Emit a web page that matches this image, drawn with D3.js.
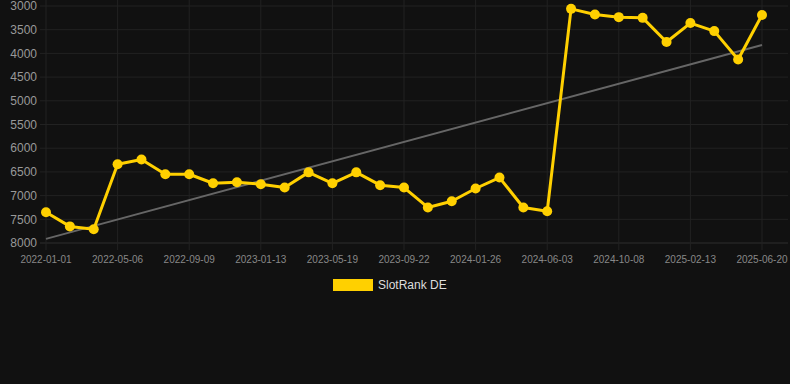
<!DOCTYPE html>
<html><head><meta charset="utf-8">
<script src="https://cdn.jsdelivr.net/npm/d3@7"></script>
<style>
html,body{margin:0;padding:0;background:#111111;}
svg{display:block;font-family:Arial,"Liberation Sans",sans-serif;}
</style></head>
<body><svg id="c" width="790" height="384"></svg>
<script>
const categories = ["2022-01-01","2022-02-12","2022-03-25","2022-05-06","2022-06-17","2022-07-29","2022-09-09","2022-10-21","2022-12-02","2023-01-13","2023-02-24","2023-04-07","2023-05-19","2023-06-30","2023-08-11","2023-09-22","2023-11-03","2023-12-15","2024-01-26","2024-03-08","2024-04-20","2024-06-03","2024-07-15","2024-08-26","2024-10-08","2024-11-19","2024-12-31","2025-02-13","2025-03-27","2025-05-08","2025-06-20"];
const rankDE = [7350,7650,7710,6340,6240,6550,6550,6740,6720,6760,6830,6510,6740,6510,6780,6830,7250,7120,6850,6620,7250,7330,3060,3180,3235,3250,3760,3360,3530,4130,3190];
const xTickLabels = ["2022-01-01","2022-05-06","2022-09-09","2023-01-13","2023-05-19","2023-09-22","2024-01-26","2024-06-03","2024-10-08","2025-02-13","2025-06-20"];
const yTicks = [3000,3500,4000,4500,5000,5500,6000,6500,7000,7500,8000];
const seriesName = "SlotRank DE";

const svg = d3.select("#c");
const x = d3.scalePoint().domain(categories).range([46, 762]);
const y = d3.scaleLinear().domain([3000, 8000]).range([6, 243]);

// grid
const g = svg.append("g");
g.selectAll("line.h").data(yTicks).join("line")
  .attr("x1", 40).attr("x2", 788)
  .attr("y1", d => y(d)).attr("y2", d => y(d))
  .attr("stroke", d => d === 8000 ? "#2e2e2e" : "#222").attr("stroke-width", 1);
g.selectAll("line.v").data(xTickLabels).join("line")
  .attr("x1", d => x(d)).attr("x2", d => x(d))
  .attr("y1", 0).attr("y2", 250)
  .attr("stroke", "#222").attr("stroke-width", 1);

// y axis labels
svg.append("g").selectAll("text").data(yTicks).join("text")
  .attr("x", 37).attr("y", d => y(d)).attr("dy", "0.35em")
  .attr("text-anchor", "end").attr("fill", "#999").attr("font-size", 12)
  .text(d => d);

// x axis labels
svg.append("g").selectAll("text").data(xTickLabels).join("text")
  .attr("x", d => x(d)).attr("y", 259).attr("dy", "0.35em")
  .attr("text-anchor", "middle").attr("fill", "#888").attr("font-size", 10)
  .text(d => d);

// trend line (linear regression)
const n = rankDE.length;
const xs = d3.range(n);
const mx = d3.mean(xs), my = d3.mean(rankDE);
const slope = d3.sum(xs, i => (i - mx) * (rankDE[i] - my)) / d3.sum(xs, i => (i - mx) ** 2);
const icpt = my - slope * mx;
svg.append("line")
  .attr("x1", x(categories[0])).attr("y1", y(icpt))
  .attr("x2", x(categories[n-1])).attr("y2", y(icpt + slope * (n-1)))
  .attr("stroke", "#666").attr("stroke-width", 2);

// series line
const line = d3.line().x((d, i) => x(categories[i])).y(d => y(d));
svg.append("path").datum(rankDE)
  .attr("d", line).attr("fill", "none")
  .attr("stroke", "#FFD000").attr("stroke-width", 3).attr("stroke-linejoin", "round");
svg.append("g").selectAll("circle").data(rankDE).join("circle")
  .attr("cx", (d, i) => x(categories[i])).attr("cy", d => y(d))
  .attr("r", 5).attr("fill", "#FFD000");

// legend
svg.append("rect").attr("x", 333).attr("y", 279).attr("width", 40).attr("height", 12).attr("fill", "#FFD000");
svg.append("text").attr("x", 378).attr("y", 285).attr("dy", "0.35em")
  .attr("fill", "#ddd").attr("font-size", 12).text(seriesName);
</script></body></html>
